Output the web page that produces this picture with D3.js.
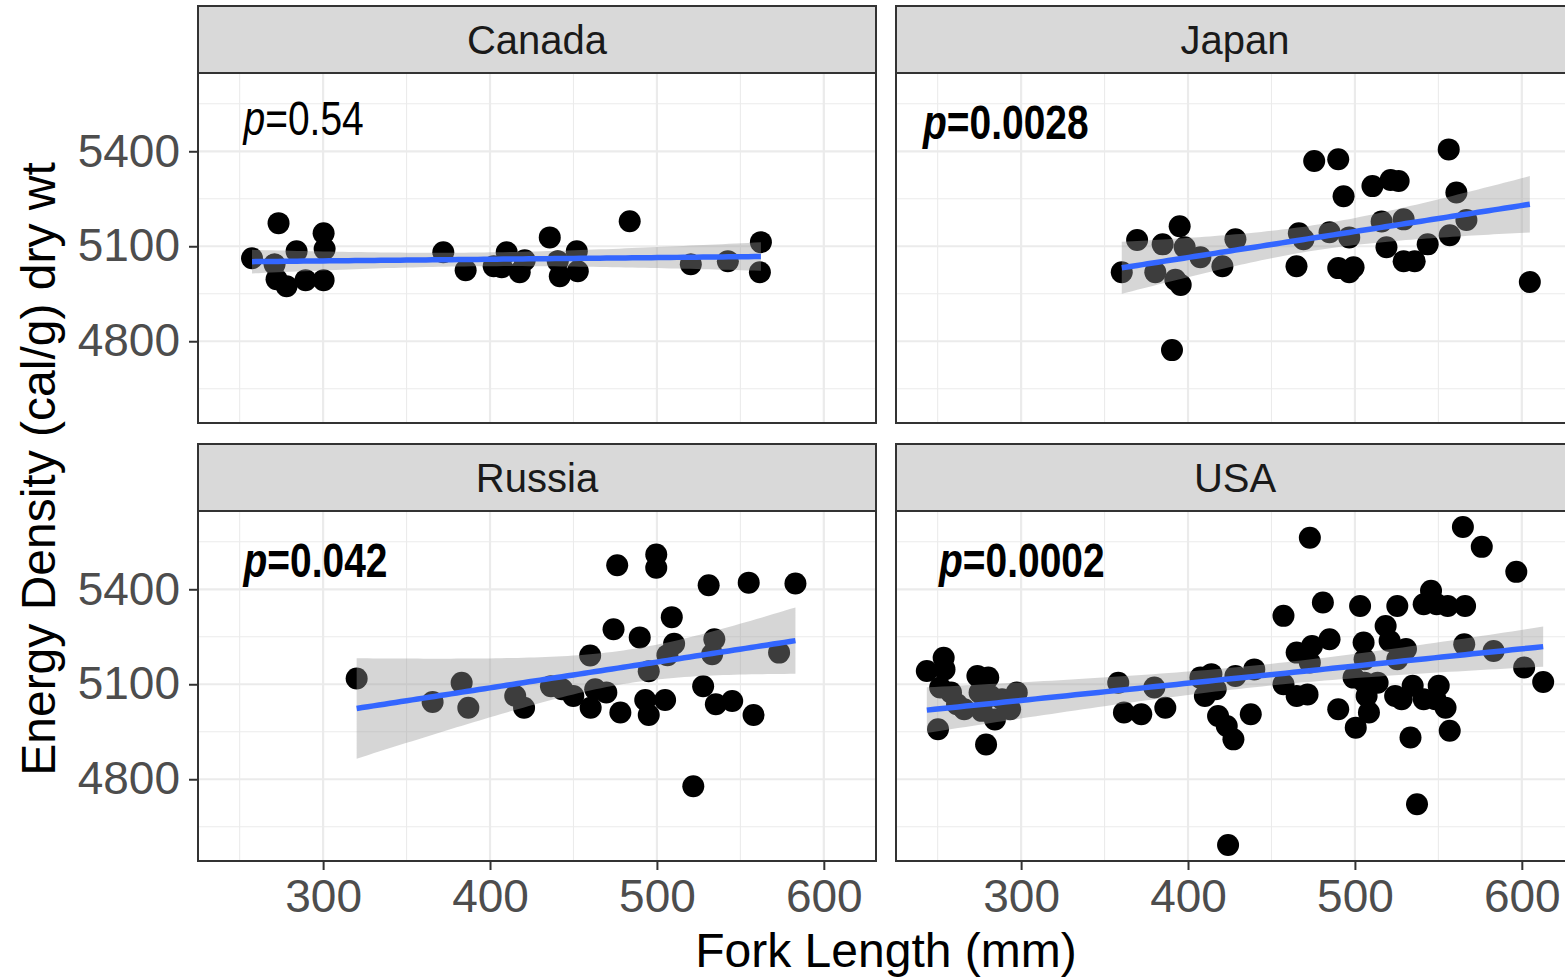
<!DOCTYPE html>
<html>
<head>
<meta charset="utf-8">
<script src="https://cdn.jsdelivr.net/npm/d3@7"></script>
<style>
  body { margin: 0; background: #ffffff; }
  svg { display: block; }
</style>
</head>
<body>
<svg id="chart" width="1565" height="980"></svg>
<script>
// ---- Data: fork length (mm) and energy density (cal/g dry wt) per country ----
const countries = ["Canada", "Japan", "Russia", "USA"];

const canadaLength = [257.4, 273.3, 270.9, 284.1, 300.3, 300.9, 272.1, 278.1, 289.5, 300.3,
  372.0, 385.4, 402.2, 410.0, 407.0, 417.8, 420.8, 435.8, 440.6, 441.8, 452.0, 452.6,
  483.7, 520.3, 542.5, 562.3, 561.7];
const canadaEnergy = [5062, 5173, 5043, 5084, 5141, 5091, 4996, 4974, 4993, 4993,
  5081, 5024, 5037, 5081, 5034, 5018, 5056, 5128, 5053, 5005, 5084, 5021,
  5179, 5043, 5053, 5113, 5018];

const japanLength = [360.3, 369.5, 380.4, 384.8, 395.0, 398.0, 407.4, 392.4, 395.6, 420.6,
  428.4, 390.4, 465.0, 466.4, 475.6, 490.0, 469.2, 484.8, 493.2, 496.6,
  490.0, 496.6, 499.2, 510.5, 521.4, 526.2, 516.0, 518.9, 529.2, 529.2,
  535.8, 543.6, 556.2, 560.8, 556.8, 566.8, 604.8];
const japanEnergy = [5018, 5120, 5018, 5106, 5163, 5097, 5065, 4994, 4978, 5037,
  5122, 4772, 5037, 5141, 5369, 5375, 5122, 5144, 5258, 5128,
  5031, 5018, 5034, 5290, 5309, 5306, 5178, 5097, 5185, 5053,
  5053, 5106, 5406, 5270, 5135, 5183, 4987];

const russiaLength = [320.1, 365.6, 383.0, 387.0, 415.1, 420.4, 436.5, 443.2, 449.9, 460.0,
  474.0, 476.2, 460.3, 463.0, 469.7, 478.1, 489.7, 495.1, 493.0, 495.1,
  499.6, 499.6, 504.9, 506.3, 508.9, 510.3, 521.8, 527.7, 531.0, 534.4,
  533.1, 535.3, 545.1, 555.0, 557.9, 573.2, 583.0];
const russiaEnergy = [5118, 5044, 5105, 5026, 5063, 5026, 5094, 5084, 5063, 5191,
  5274, 5476, 5026, 5084, 5074, 5011, 5248, 5141, 5050, 5003,
  5510, 5468, 5050, 5192, 5312, 5228, 4778, 5094, 5413, 5242,
  5195, 5037, 5047, 5421, 5003, 5200, 5418];

const usaLength = [243.5, 253.6, 254.1, 251.5, 258.0, 265.9, 273.8, 280.3, 275.1, 281.6,
  276.4, 284.3, 293.4, 297.4, 250.2, 279.0, 288.6, 261.6, 358.2, 361.6,
  372.0, 379.8, 386.4, 407.4, 414.0, 410.1, 416.6, 418.0, 423.2, 427.2,
  428.4, 437.6, 439.7, 424.0, 457.2, 457.2, 465.1, 474.3, 473.0, 465.1,
  471.6, 473.0, 480.8, 484.8, 490.0, 499.2, 500.5, 503.1, 505.2, 505.8,
  505.8, 507.0, 508.4, 513.6, 518.4, 520.8, 525.4, 525.4, 530.6, 524.1,
  534.6, 533.3, 537.2, 528.0, 541.2, 545.6, 541.2, 549.0, 550.2, 548.2,
  554.3, 555.6, 556.8, 564.7, 566.0, 565.5, 576.0, 583.1, 596.7, 601.4,
  612.8];
const usaEnergy = [5142, 5184, 5147, 5090, 5074, 5021, 5126, 5121, 5074, 5063,
  5016, 4989, 5021, 5074, 4958, 4910, 5053, 5037, 5105, 5011,
  5005, 5090, 5026, 5121, 5132, 5063, 5084, 5000, 4968, 4926,
  5126, 5005, 5147, 4592, 5316, 5100, 5200, 5221, 5169, 5063,
  5068, 5563, 5358, 5242, 5021, 5121, 4963, 5347, 5232, 5179,
  5105, 5063, 5011, 5105, 5284, 5237, 5347, 5179, 5211, 5063,
  5095, 4932, 4721, 5053, 5053, 5395, 5353, 5353, 5095, 5053,
  5026, 5347, 4953, 5597, 5347, 5226, 5534, 5205, 5455, 5153,
  5107];

// p-values of the regression slope; bold where significant
const pValues = ["0.54", "0.0028", "0.042", "0.0002"];
const pBold = [false, true, true, true];
// label anchor (left edge, baseline) in data units
const pLabelLength = [252.3, 241.2, 252.3, 250.8];
const pLabelEnergy = [5450, 5440, 5440, 5440];

const xTicks = [300, 400, 500, 600];
const xMinorTicks = [250, 350, 450, 550];
const yTicks = [4800, 5100, 5400];
const yMinorTicks = [4650, 4950, 5250, 5550];

const xTitle = "Fork Length (mm)";
const yTitle = "Energy Density (cal/g) dry wt";

// ---- Assemble facets ----
const lengths = [canadaLength, japanLength, russiaLength, usaLength];
const energies = [canadaEnergy, japanEnergy, russiaEnergy, usaEnergy];
const facets = countries.map((name, i) => ({
  name,
  points: lengths[i].map((x, j) => ({ x, y: energies[i][j] })),
  p: pValues[i], bold: pBold[i],
  labelX: pLabelLength[i], labelY: pLabelEnergy[i],
  col: i % 2, row: Math.floor(i / 2)
}));

// ---- Layout ----
const panelLeft = [198, 896];
const panelW = 678;
const stripTop = [6, 444];
const stripH = 67;
const panelH = 350;

// shared (fixed) scales with 5% expansion like ggplot
const allX = facets.flatMap(f => f.points.map(d => d.x));
const allY = facets.flatMap(f => f.points.map(d => d.y));
function expand([a, b]) { const e = (b - a) * 0.05; return [a - e, b + e]; }
const xDomain = expand(d3.extent(allX));
const yDomain = expand(d3.extent(allY));

// Student t quantile via Cornish-Fisher expansion
function tQuantile(p, df) {
  const z = normInv(p);
  const z3 = z * z * z, z5 = z3 * z * z, z7 = z5 * z * z;
  return z + (z3 + z) / (4 * df) + (5 * z5 + 16 * z3 + 3 * z) / (96 * df * df)
    + (3 * z7 + 19 * z5 + 17 * z3 - 15 * z) / (384 * df * df * df);
}
function normInv(p) {
  // Acklam's rational approximation
  const a = [-39.69683028665376, 220.9460984245205, -275.9285104469687, 138.3577518672690, -30.66479806614716, 2.506628277459239];
  const b = [-54.47609879822406, 161.5858368580409, -155.6989798598866, 66.80131188771972, -13.28068155288572];
  const c = [-0.007784894002430293, -0.3223964580411365, -2.400758277161838, -2.549732539343734, 4.374664141464968, 2.938163982698783];
  const d = [0.007784695709041462, 0.3224671290700398, 2.445134137142996, 3.754408661907416];
  const pl = 0.02425;
  let q, r;
  if (p < pl) {
    q = Math.sqrt(-2 * Math.log(p));
    return (((((c[0]*q+c[1])*q+c[2])*q+c[3])*q+c[4])*q+c[5]) / ((((d[0]*q+d[1])*q+d[2])*q+d[3])*q+1);
  } else if (p <= 1 - pl) {
    q = p - 0.5; r = q * q;
    return (((((a[0]*r+a[1])*r+a[2])*r+a[3])*r+a[4])*r+a[5])*q / (((((b[0]*r+b[1])*r+b[2])*r+b[3])*r+b[4])*r+1);
  }
  q = Math.sqrt(-2 * Math.log(1 - p));
  return -(((((c[0]*q+c[1])*q+c[2])*q+c[3])*q+c[4])*q+c[5]) / ((((d[0]*q+d[1])*q+d[2])*q+d[3])*q+1);
}

// linear model fit with 95% confidence band, evaluated on 80 points
function lmBand(pts) {
  const n = pts.length;
  const mx = d3.mean(pts, d => d.x), my = d3.mean(pts, d => d.y);
  const sxx = d3.sum(pts, d => (d.x - mx) ** 2);
  const sxy = d3.sum(pts, d => (d.x - mx) * (d.y - my));
  const b = sxy / sxx, a = my - b * mx;
  const s2 = d3.sum(pts, d => (d.y - a - b * d.x) ** 2) / (n - 2);
  const t = tQuantile(0.975, n - 2);
  const [x0, x1] = d3.extent(pts, d => d.x);
  return d3.range(80).map(i => {
    const x = x0 + (x1 - x0) * i / 79;
    const fit = a + b * x;
    const se = Math.sqrt(s2 * (1 / n + (x - mx) ** 2 / sxx));
    return { x, fit, lo: fit - t * se, hi: fit + t * se };
  });
}

const svg = d3.select("#chart");
const font = "'Liberation Sans', Arial, Helvetica, sans-serif";

facets.forEach(f => {
  const left = panelLeft[f.col];
  const sTop = stripTop[f.row];
  const pTop = sTop + stripH;
  const x = d3.scaleLinear().domain(xDomain).range([left, left + panelW]);
  const y = d3.scaleLinear().domain(yDomain).range([pTop + panelH, pTop]);

  const g = svg.append("g");
  const clipId = "clip-" + f.name;
  g.append("clipPath").attr("id", clipId)
    .append("rect").attr("x", left).attr("y", pTop).attr("width", panelW).attr("height", panelH);

  g.append("rect").attr("x", left).attr("y", pTop).attr("width", panelW).attr("height", panelH)
    .attr("fill", "#ffffff");

  const grid = g.append("g").attr("clip-path", `url(#${clipId})`);
  // minor grid
  grid.selectAll(".vmin").data(xMinorTicks).join("line")
    .attr("x1", d => x(d)).attr("x2", d => x(d)).attr("y1", pTop).attr("y2", pTop + panelH)
    .attr("stroke", "#ebebeb").attr("stroke-width", 1.1);
  grid.selectAll(".hmin").data(yMinorTicks).join("line")
    .attr("y1", d => y(d)).attr("y2", d => y(d)).attr("x1", left).attr("x2", left + panelW)
    .attr("stroke", "#ebebeb").attr("stroke-width", 1.1);
  // major grid
  grid.selectAll(".vmaj").data(xTicks).join("line")
    .attr("x1", d => x(d)).attr("x2", d => x(d)).attr("y1", pTop).attr("y2", pTop + panelH)
    .attr("stroke", "#ebebeb").attr("stroke-width", 2.2);
  grid.selectAll(".hmaj").data(yTicks).join("line")
    .attr("y1", d => y(d)).attr("y2", d => y(d)).attr("x1", left).attr("x2", left + panelW)
    .attr("stroke", "#ebebeb").attr("stroke-width", 2.2);

  const plot = g.append("g").attr("clip-path", `url(#${clipId})`);
  plot.selectAll("circle").data(f.points).join("circle")
    .attr("cx", d => x(d.x)).attr("cy", d => y(d.y)).attr("r", 11).attr("fill", "#000000");

  const band = lmBand(f.points);
  plot.append("path").datum(band)
    .attr("d", d3.area().x(d => x(d.x)).y0(d => y(d.lo)).y1(d => y(d.hi)))
    .attr("fill", "#999999").attr("fill-opacity", 0.4);
  plot.append("path").datum(band)
    .attr("d", d3.line().x(d => x(d.x)).y(d => y(d.fit)))
    .attr("fill", "none").attr("stroke", "#3366FF").attr("stroke-width", 5.5);

  // p-value annotation (condensed face)
  const lx = x(f.labelX), ly = y(f.labelY);
  const label = plot.append("text")
    .attr("transform", `translate(${lx},${ly}) scale(0.82,1)`)
    .attr("font-family", font).attr("font-size", 47.5)
    .attr("font-weight", f.bold ? "bold" : "normal").attr("fill", "#000000");
  label.append("tspan").attr("font-style", "italic").text("p");
  label.append("tspan").text("=" + f.p);

  // panel border
  g.append("rect").attr("x", left).attr("y", pTop).attr("width", panelW).attr("height", panelH)
    .attr("fill", "none").attr("stroke", "#333333").attr("stroke-width", 2);

  // strip
  g.append("rect").attr("x", left).attr("y", sTop).attr("width", panelW).attr("height", stripH)
    .attr("fill", "#d9d9d9").attr("stroke", "#333333").attr("stroke-width", 2);
  g.append("text").attr("x", left + panelW / 2).attr("y", sTop + stripH / 2)
    .attr("dy", "0.36em").attr("text-anchor", "middle")
    .attr("font-family", font).attr("font-size", 40).attr("fill", "#1a1a1a")
    .text(f.name);

  // axes: y on left column, x on bottom row
  if (f.col === 0) {
    const ay = g.append("g").attr("transform", `translate(${left},0)`)
      .call(d3.axisLeft(y).tickValues(yTicks).tickSize(9).tickPadding(9).tickFormat(d3.format("d")));
    ay.select(".domain").remove();
    ay.selectAll(".tick line").attr("stroke", "#333333").attr("stroke-width", 2);
    ay.selectAll(".tick text").attr("font-family", font).attr("font-size", 46).attr("fill", "#4d4d4d");
  }
  if (f.row === 1) {
    const ax = g.append("g").attr("transform", `translate(0,${pTop + panelH})`)
      .call(d3.axisBottom(x).tickValues(xTicks).tickSize(9).tickPadding(9).tickFormat(d3.format("d")));
    ax.select(".domain").remove();
    ax.selectAll(".tick line").attr("stroke", "#333333").attr("stroke-width", 2);
    ax.selectAll(".tick text").attr("font-family", font).attr("font-size", 46).attr("fill", "#4d4d4d");
  }
});

// axis titles
svg.append("text").attr("x", 886).attr("y", 967).attr("text-anchor", "middle")
  .attr("font-family", font).attr("font-size", 48).attr("fill", "#000000").text(xTitle);
svg.append("text").attr("transform", "translate(55,469) rotate(-90)").attr("text-anchor", "middle")
  .attr("font-family", font).attr("font-size", 48).attr("fill", "#000000").text(yTitle);
</script>
</body>
</html>
